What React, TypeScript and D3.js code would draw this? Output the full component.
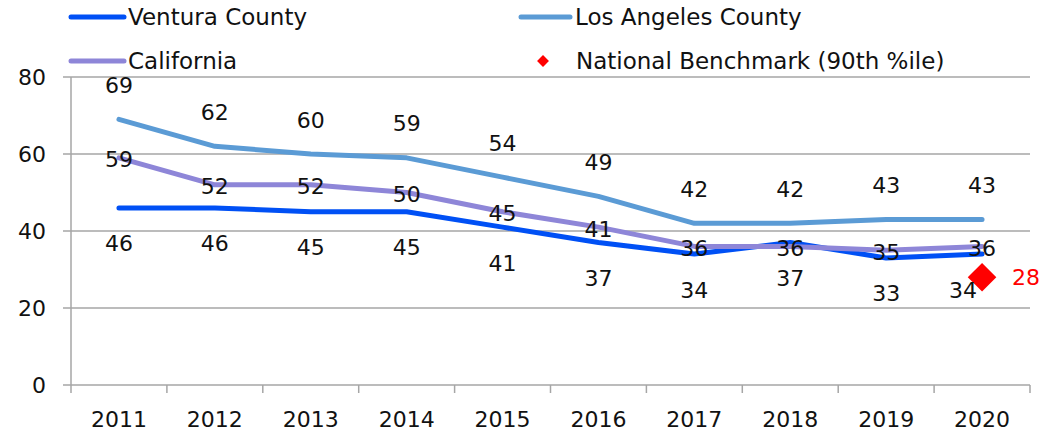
import React from 'react';
import * as d3 from 'd3';

const years = ['2011', '2012', '2013', '2014', '2015', '2016', '2017', '2018', '2019', '2020'];
const ventura = [46, 46, 45, 45, 41, 37, 34, 37, 33, 34];
const losAngeles = [69, 62, 60, 59, 54, 49, 42, 42, 43, 43];
const california = [59, 52, 52, 50, 45, 41, 36, 36, 35, 36];
const benchmark = { year: '2020', value: 28 };
const yTicks = [0, 20, 40, 60, 80];

const FONT = '"DejaVu Sans", sans-serif';

const W = 1047;
const H = 434;
const margin = { top: 77, right: 17, bottom: 49, left: 71 };

const seriesList = [
  { name: 'Ventura County', values: ventura, color: '#0050F5', labelDy: 36 },
  { name: 'Los Angeles County', values: losAngeles, color: '#5B9BD5', labelDy: -34 },
  { name: 'California', values: california, color: '#8E86D8', labelDy: 2 },
];

export default function App() {
  const innerW = W - margin.left - margin.right;
  const innerH = H - margin.top - margin.bottom;

  const x = d3.scaleBand().domain(years).range([0, innerW]);
  const y = d3.scaleLinear().domain([0, 80]).range([innerH, 0]);
  const cx = (yr: string) => (x(yr) ?? 0) + x.bandwidth() / 2;

  const line = d3.line<number>()
    .x((_, i) => cx(years[i]))
    .y(d => y(d));

  const bx = cx(benchmark.year);
  const by = y(benchmark.value);

  return (
    <svg width={W} height={H} style={{ position: 'absolute', left: 0, top: 0, fontFamily: FONT }}>
      <rect width={W} height={H} fill="#fff" />
      <g transform={`translate(${margin.left},${margin.top})`}>
        {/* grid */}
        {yTicks.map(t => (
          <g key={t}>
            <line x1={-8} x2={innerW} y1={y(t)} y2={y(t)} stroke="#A6A6A6" strokeWidth={1.5} />
            <text x={-25} y={y(t)} textAnchor="end" dominantBaseline="central" fontSize={22} fill="#111">{t}</text>
          </g>
        ))}
        <line x1={0} x2={0} y1={0} y2={innerH + 8} stroke="#A6A6A6" strokeWidth={1.5} />
        {years.map(yr => (
          <g key={yr}>
            <line x1={(x(yr) ?? 0) + x.bandwidth()} x2={(x(yr) ?? 0) + x.bandwidth()} y1={innerH} y2={innerH + 8} stroke="#A6A6A6" strokeWidth={1.5} />
            <text x={cx(yr)} y={innerH + 34} textAnchor="middle" dominantBaseline="central" fontSize={22} fill="#111">{yr}</text>
          </g>
        ))}

        {/* lines */}
        {seriesList.map(s => (
          <path key={s.name} d={line(s.values) || ''} fill="none" stroke={s.color} strokeWidth={5} strokeLinecap="round" strokeLinejoin="round" />
        ))}

        {/* benchmark */}
        <path d={d3.symbol(d3.symbolDiamond2, 520)() || ''} transform={`translate(${bx},${by})`} fill="#FF0000" />
        <text x={bx + 30} y={by} dominantBaseline="central" fontSize={22} fill="#FF0000">{benchmark.value}</text>

        {/* labels */}
        {seriesList.map(s => s.values.map((v, i) => {
          const shift = s.name === 'Ventura County' && years[i] === benchmark.year ? -19 : 0;
          return (
            <text key={s.name + i} x={cx(years[i]) + shift} y={y(v) + s.labelDy} textAnchor="middle" dominantBaseline="central" fontSize={22} fill="#111">{v}</text>
          );
        }))}
      </g>

      {/* legend */}
      <g fontSize={23} fill="#111">
        <line x1={71} x2={124} y1={17} y2={17} stroke={seriesList[0].color} strokeWidth={5} strokeLinecap="round" />
        <text x={128} y={17} dominantBaseline="central">{seriesList[0].name}</text>
        <line x1={521} x2={570} y1={17} y2={17} stroke={seriesList[1].color} strokeWidth={5} strokeLinecap="round" />
        <text x={575} y={17} dominantBaseline="central">{seriesList[1].name}</text>
        <line x1={71} x2={124} y1={61} y2={61} stroke={seriesList[2].color} strokeWidth={5} strokeLinecap="round" />
        <text x={128} y={61} dominantBaseline="central">{seriesList[2].name}</text>
        <path d={d3.symbol(d3.symbolDiamond2, 90)() || ''} transform="translate(543,61)" fill="#FF0000" />
        <text x={576} y={61} dominantBaseline="central">National Benchmark (90th %ile)</text>
      </g>
    </svg>
  );
}
